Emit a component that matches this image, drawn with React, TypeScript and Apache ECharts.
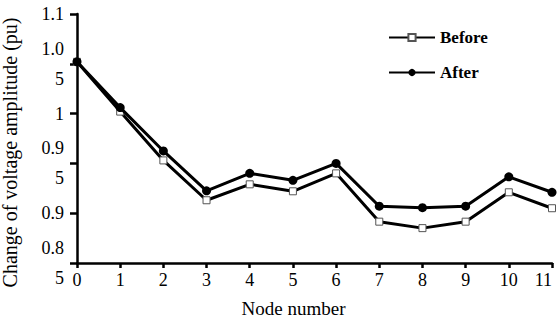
import React, { useEffect, useRef } from "react";
import * as echarts from "echarts";

const nodes = [0, 1, 2, 3, 4, 5, 6, 7, 8, 9, 10, 11];
const before = [1.052, 1.002, 0.953, 0.913, 0.929, 0.922, 0.94, 0.8915, 0.885, 0.8915, 0.921, 0.905];
const after = [1.052, 1.006, 0.9625, 0.9225, 0.94, 0.933, 0.95, 0.907, 0.9055, 0.907, 0.9365, 0.921];
const yLabels: Record<string, string> = {
  "1.1": "1.1",
  "1.05": "1.0\n5",
  "1": "1",
  "0.95": "0.9\n5",
  "0.9": "0.9",
  "0.85": "0.8\n5",
};

const FONT = "'Liberation Serif', 'Times New Roman', serif";

export default function App() {
  const ref = useRef<HTMLDivElement>(null);
  useEffect(() => {
    if (!ref.current) return;
    const chart = echarts.init(ref.current, null, { renderer: "svg" });
    chart.setOption({
      animation: false,
      backgroundColor: "#fff",
      textStyle: { fontFamily: FONT, color: "#000" },
      grid: { left: 77, right: 7, top: 14, bottom: 58, outerBoundsMode: "none", containLabel: false },
      legend: {
        orient: "vertical",
        left: 383,
        top: 24,
        itemWidth: 46,
        itemHeight: 9,
        itemGap: 18,
        textStyle: { fontFamily: FONT, fontSize: 17, fontWeight: "bold", color: "#000" },
        data: ["Before", "After"],
      },
      xAxis: {
        type: "value",
        min: 0,
        max: 11,
        interval: 1,
        name: "Node number",
        nameLocation: "middle",
        nameGap: 36,
        nameTextStyle: { fontFamily: FONT, fontSize: 19, color: "#000", padding: [0, 42, 0, 0] },
        axisLine: { lineStyle: { color: "#000", width: 2.5 } },
        axisTick: { inside: false, length: 5, lineStyle: { color: "#000", width: 2.5 } },
        axisLabel: { fontFamily: FONT, fontSize: 18, color: "#000", margin: 8, alignMaxLabel: "right" },
        splitLine: { show: false },
      },
      yAxis: {
        type: "value",
        min: 0.85,
        max: 1.1,
        interval: 0.05,
        name: "Change of voltage amplitude (pu)",
        nameLocation: "middle",
        nameGap: 57,
        nameRotate: 90,
        nameTextStyle: { fontFamily: FONT, fontSize: 20, color: "#000", padding: [0, 28, 0, 0] },
        axisLine: { show: true, lineStyle: { color: "#000", width: 2.5 } },
        axisTick: { show: true, inside: false, length: 7, lineStyle: { color: "#000", width: 2.5 } },
        axisLabel: {
          fontFamily: FONT,
          fontSize: 18,
          color: "#000",
          margin: 13,
          lineHeight: 30,
          align: "right",
          formatter: (v: number) => yLabels[String(Math.round(v * 100) / 100)] ?? String(v),
        },
        splitLine: { show: false },
      },
      series: [
        {
          name: "Before",
          type: "line",
          data: nodes.map((n, i) => [n, before[i]]),
          symbol: "rect",
          symbolSize: 7,
          lineStyle: { color: "#000", width: 3 },
          itemStyle: { color: "#fff", borderColor: "#555", borderWidth: 1 },
          z: 2,
        },
        {
          name: "After",
          type: "line",
          data: nodes.map((n, i) => [n, after[i]]),
          symbol: "circle",
          symbolSize: 9,
          lineStyle: { color: "#000", width: 3 },
          itemStyle: { color: "#000" },
          z: 3,
        },
      ],
    });
    return () => chart.dispose();
  }, []);
  return <div ref={ref} style={{ width: 559, height: 321, position: "absolute", left: 0, top: 0 }} />;
}
